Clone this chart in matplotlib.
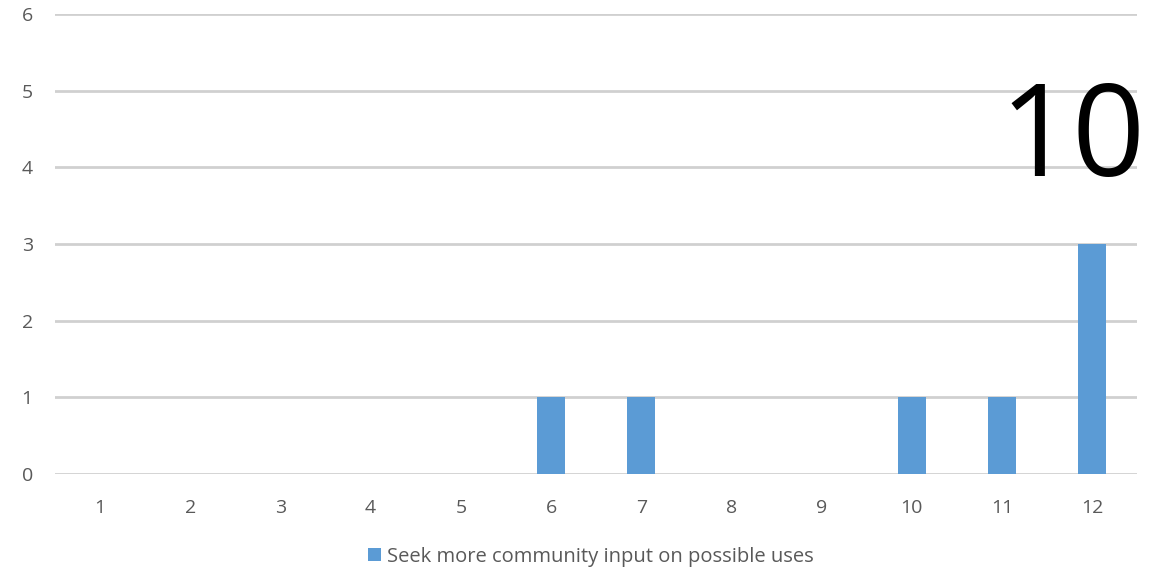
import numpy as np
import matplotlib
matplotlib.use("Agg")
import matplotlib.pyplot as plt
from matplotlib.patches import Patch

plt.rcParams['font.family'] = ['Open Sans', 'DejaVu Sans']

categories = [1, 2, 3, 4, 5, 6, 7, 8, 9, 10, 11, 12]
counts = [0, 0, 0, 0, 0, 1, 1, 0, 0, 1, 1, 3]
series_name = "Seek more community input on possible uses"
big_label = "10"

bar_color = '#5b9bd5'
grid_color = '#d0d0d0'
text_color = '#595959'

fig = plt.figure(figsize=(11.7, 5.68), dpi=100)
ax = fig.add_axes([0.047, 0.1655, 0.925, 0.81])

x = np.arange(len(categories))
ax.bar(x, counts, width=0.31, color=bar_color, zorder=3)

ax.set_xlim(-0.5, len(categories) - 0.5)
ax.set_ylim(0, 6)
ax.set_yticks(range(0, 7))
ax.set_xticks(x)
ax.set_xticklabels([str(c) for c in categories])
ax.yaxis.grid(True, color=grid_color, linewidth=2, zorder=0)
ax.tick_params(axis='both', length=0, labelsize=14, colors=text_color)
ax.tick_params(axis='y', pad=16)
ax.tick_params(axis='x', pad=18)
for s in ax.spines.values():
    s.set_visible(False)

# big number in the corner
ax.text(0.94, 0.72, big_label, transform=ax.transAxes, fontsize=92,
        color='black', ha='center', va='center', zorder=5)

handle = Patch(facecolor=bar_color, edgecolor='none')
fig.legend([handle], [series_name], loc='center', bbox_to_anchor=(0.505, 0.02),
           frameon=False, fontsize=14.5, handlelength=0.65, handleheight=0.65,
           handletextpad=0.3, labelcolor=text_color)

plt.savefig("out.png", dpi=100)
